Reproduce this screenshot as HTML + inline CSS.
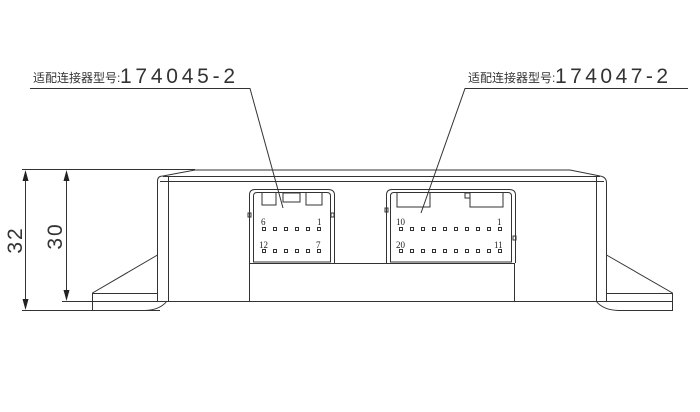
<!DOCTYPE html>
<html><head><meta charset="utf-8"><style>
html,body{margin:0;padding:0;background:#fff;}
svg{display:block;}
.t{font-family:"Liberation Sans","Noto Sans CJK SC",sans-serif;}
</style></head><body>
<svg width="700" height="412" viewBox="0 0 700 412" xmlns="http://www.w3.org/2000/svg">
<g fill="none" stroke="#333" stroke-width="1">
<line x1="22" y1="169.5" x2="195" y2="169.5"/>
<line x1="22" y1="310.5" x2="160" y2="310.5"/>
<line x1="62" y1="301.5" x2="92" y2="301.5"/>
<line x1="25.5" y1="172" x2="25.5" y2="308"/>
<line x1="66.5" y1="172" x2="66.5" y2="299"/>
</g>
<g fill="#222">
<polygon points="25.5,170 22.5,181 28.5,181"/>
<polygon points="25.5,310 22.5,299 28.5,299"/>
<polygon points="66.5,170 63.5,181 69.5,181"/>
<polygon points="66.5,301 63.5,290 69.5,290"/>
</g>
<text class="t" x="0" y="0" transform="translate(22,240) rotate(-90)" text-anchor="middle" font-size="21" fill="#333" letter-spacing="2">32</text>
<text class="t" x="0" y="0" transform="translate(62,236) rotate(-90)" text-anchor="middle" font-size="21" fill="#333" letter-spacing="2">30</text>

<g fill="none" stroke="#333" stroke-width="1">
<path d="M157.5,301 L157.5,181 Q157.5,176 163,176 L195,170 L570,170 L600,176 Q606.5,177 606.5,183 L606.5,301"/>
<line x1="163" y1="176.5" x2="600" y2="176.5"/>
<line x1="160" y1="181.5" x2="604" y2="181.5"/>
<line x1="168.5" y1="177" x2="168.5" y2="301"/>
<line x1="596.5" y1="177" x2="596.5" y2="301"/>
<line x1="92" y1="301.5" x2="672" y2="301.5"/>
<path d="M157.5,255 L92.5,293 L92.5,310.5 L145,310.5 Q160,310 167,301"/>
<line x1="92.5" y1="293.5" x2="157" y2="293.5"/>
<path d="M606.5,255 L672.5,293 L672.5,310.5 L618,310.5 Q603,310 596,301"/>
<line x1="607" y1="293.5" x2="672.5" y2="293.5"/>
<line x1="249.5" y1="263" x2="249.5" y2="301"/>
<line x1="514.5" y1="263" x2="514.5" y2="301"/>
<line x1="249" y1="263.5" x2="515" y2="263.5"/>
<path d="M249.5,263 L249.5,195 Q249.5,189.5 255,189.5 L328,189.5 Q334.5,189.5 334.5,195 L334.5,263"/>
<path d="M253.5,262 L253.5,196 Q253.5,192.5 257,192.5 L327,192.5 Q330.5,192.5 330.5,196 L330.5,262 Z"/>
<path d="M262,193 L262,205 L276,205 L276,193"/>
<path d="M306,193 L306,205 L322,205 L322,193"/>
<rect x="283" y="193" width="17" height="9"/>
<path d="M386.5,263 L386.5,195 Q386.5,189.5 392,189.5 L509,189.5 Q515.5,189.5 515.5,195 L515.5,263"/>
<path d="M390.5,262 L390.5,196 Q390.5,192.5 394,192.5 L508,192.5 Q511.5,192.5 511.5,196 L511.5,262 Z"/>
<path d="M397,193 L397,207 L430,207 L430,193"/>
<path d="M470,193 L470,207 L503,207 L503,193"/>
<rect x="465" y="193" width="5" height="5"/>
<polyline points="30,88.5 250,88.5 283,208"/>
<polyline points="688,88.5 465,88.5 421,213"/>
</g>
<g fill="none" stroke="#333" stroke-width="1">
<rect x="248" y="213" width="3" height="4"/><rect x="331" y="213" width="3" height="4"/>
<rect x="385" y="208" width="3" height="4"/><rect x="513" y="236" width="3" height="4"/>
</g>
<g fill="none" stroke="#333" stroke-width="1">
<rect x="262.5" y="227.5" width="3" height="3"/><rect x="273.5" y="227.5" width="3" height="3"/><rect x="284.5" y="227.5" width="3" height="3"/><rect x="295.5" y="227.5" width="3" height="3"/><rect x="306.5" y="227.5" width="3" height="3"/><rect x="317.5" y="227.5" width="3" height="3"/>
<rect x="262.5" y="249.5" width="3" height="3"/><rect x="273.5" y="249.5" width="3" height="3"/><rect x="284.5" y="249.5" width="3" height="3"/><rect x="295.5" y="249.5" width="3" height="3"/><rect x="306.5" y="249.5" width="3" height="3"/><rect x="317.5" y="249.5" width="3" height="3"/>
<rect x="399.5" y="227.5" width="3" height="3"/><rect x="410.5" y="227.5" width="3" height="3"/><rect x="421.5" y="227.5" width="3" height="3"/><rect x="432.5" y="227.5" width="3" height="3"/><rect x="443.5" y="227.5" width="3" height="3"/><rect x="454.5" y="227.5" width="3" height="3"/><rect x="465.5" y="227.5" width="3" height="3"/><rect x="476.5" y="227.5" width="3" height="3"/><rect x="487.5" y="227.5" width="3" height="3"/><rect x="498.5" y="227.5" width="3" height="3"/>
<rect x="399.5" y="249.5" width="3" height="3"/><rect x="410.5" y="249.5" width="3" height="3"/><rect x="421.5" y="249.5" width="3" height="3"/><rect x="432.5" y="249.5" width="3" height="3"/><rect x="443.5" y="249.5" width="3" height="3"/><rect x="454.5" y="249.5" width="3" height="3"/><rect x="465.5" y="249.5" width="3" height="3"/><rect x="476.5" y="249.5" width="3" height="3"/><rect x="487.5" y="249.5" width="3" height="3"/><rect x="498.5" y="249.5" width="3" height="3"/>
</g>
<g font-family="Liberation Serif, serif" font-size="9" fill="#222">
<text x="261" y="225">6</text><text x="317" y="225">1</text>
<text x="259" y="248">12</text><text x="316" y="248">7</text>
<text x="396" y="225">10</text><text x="497" y="225">1</text>
<text x="396" y="248">20</text><text x="494" y="248">11</text>
</g>
<text class="t" x="33" y="82" fill="#333" font-size="12">适配连接器型号:</text>
<text class="t" x="120" y="83" fill="#333" font-size="21" textLength="115" lengthAdjust="spacing">174045-2</text>
<text class="t" x="468" y="82" fill="#333" font-size="12">适配连接器型号:</text>
<text class="t" x="555" y="83" fill="#333" font-size="21" textLength="113" lengthAdjust="spacing">174047-2</text>
</svg>
</body></html>
